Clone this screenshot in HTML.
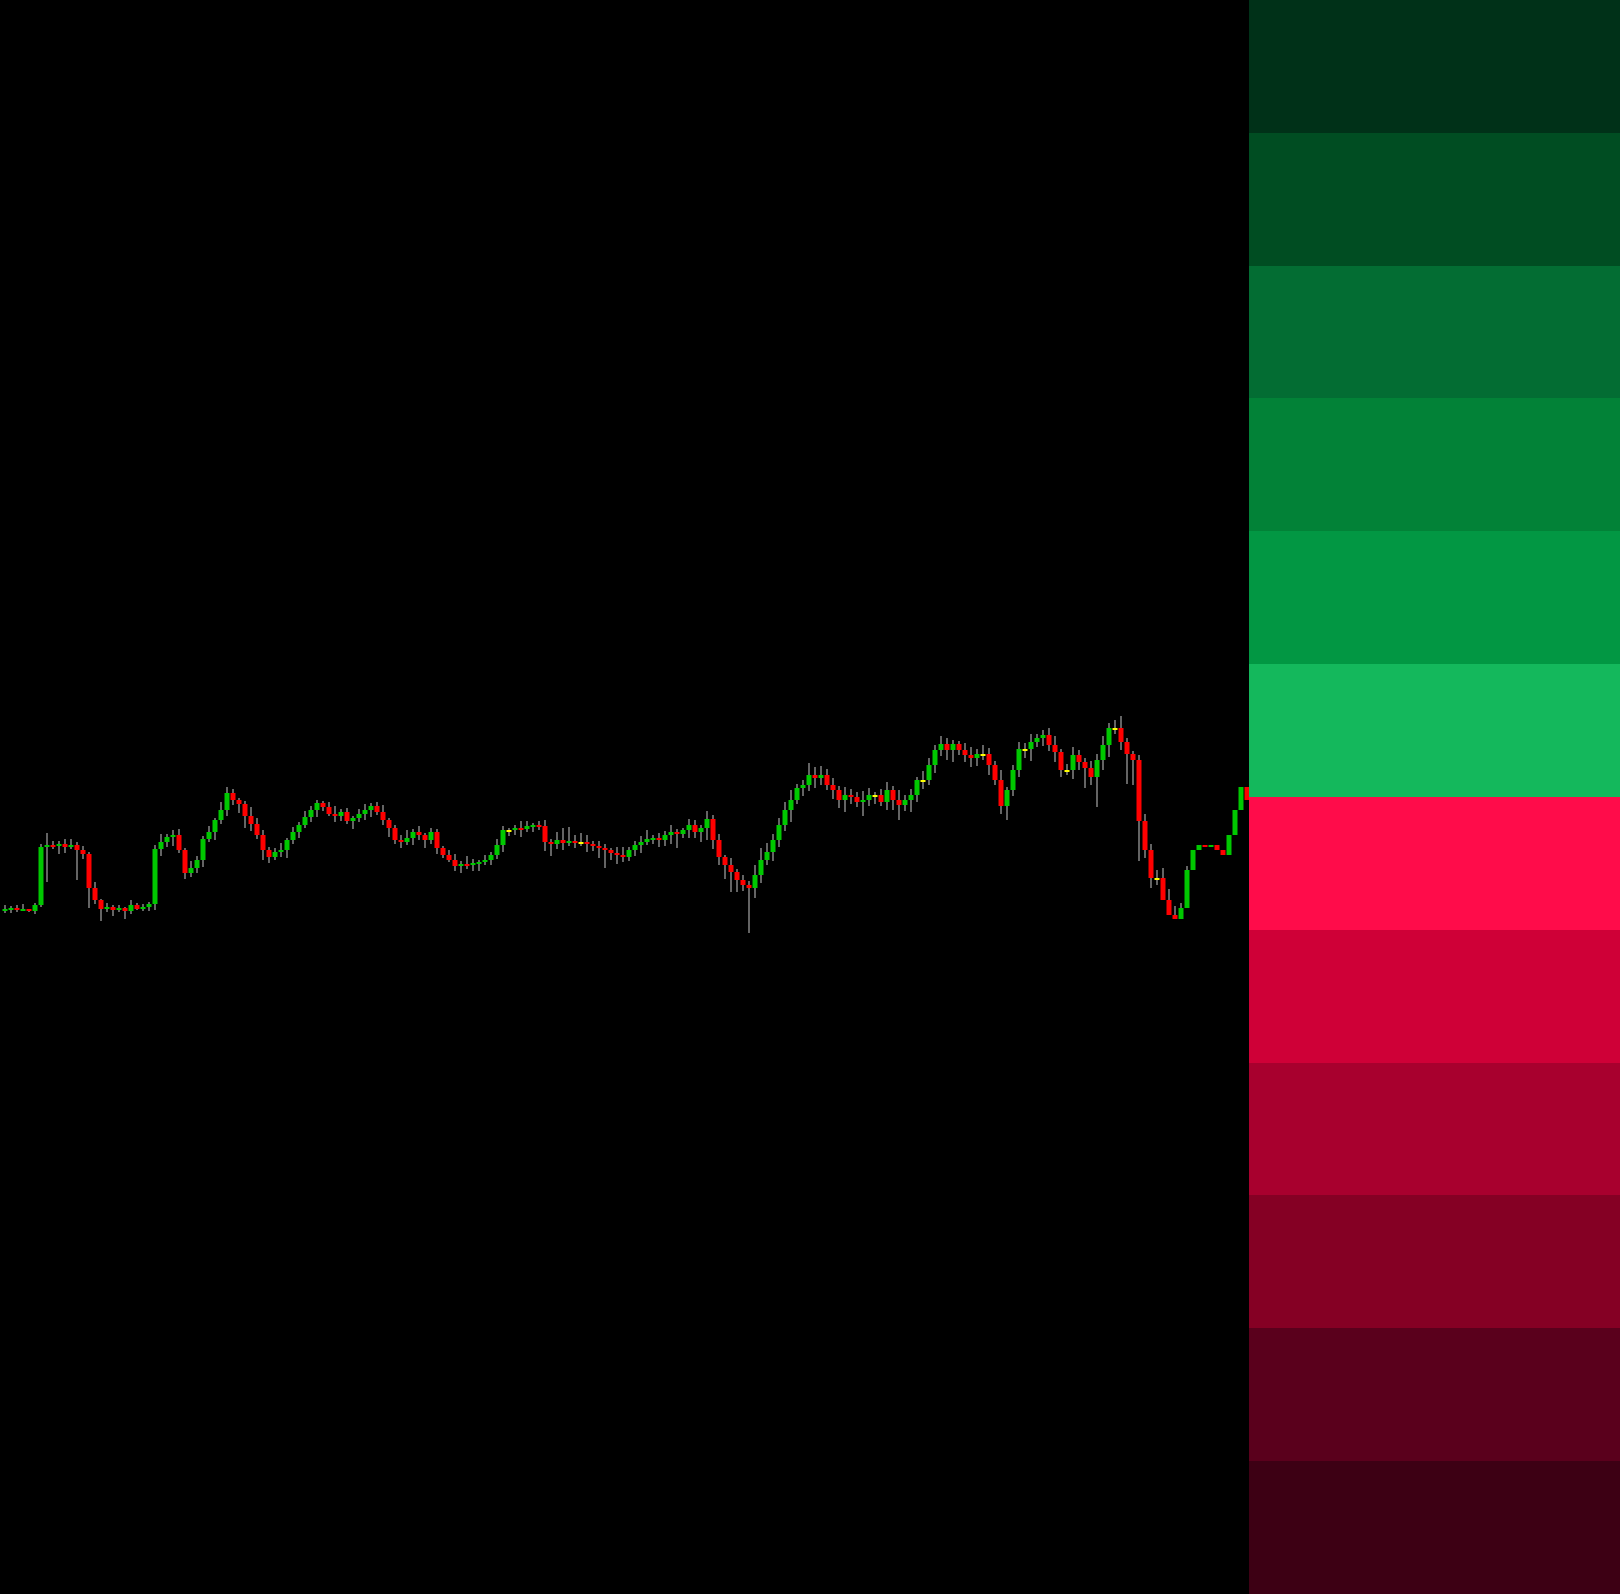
<!DOCTYPE html>
<html><head><meta charset="utf-8"><style>
html,body{margin:0;padding:0;background:#000;width:1620px;height:1594px;overflow:hidden}
#chart{position:absolute;left:0;top:0}
#panel{position:absolute;left:1249px;top:0;width:371px;height:1594px}
.band{width:371px;height:132.84px}
</style></head><body>
<svg id="chart" width="1249" height="1594"></svg>
<div id="panel">
<div class="band" style="background:#003118"></div>
<div class="band" style="background:#004d22"></div>
<div class="band" style="background:#036d33"></div>
<div class="band" style="background:#028237"></div>
<div class="band" style="background:#029743"></div>
<div class="band" style="background:#14b85c"></div>
<div class="band" style="background:#ff0c4a"></div>
<div class="band" style="background:#cf0037"></div>
<div class="band" style="background:#a8002e"></div>
<div class="band" style="background:#850024"></div>
<div class="band" style="background:#5a001c"></div>
<div class="band" style="background:#3d0014"></div>
</div>
<script>
const closes = [91,92,90,91,89,95,
153,155,154,156,153,155,150,146,
112,100,91,93,90,92,89,95,91,93,96,
151,158,163,165,150,127,132,140,
161,168,180,190,207,200,196,
184,176,165,150,143,148,150,160,
168,175,183,190,197,193,186,184,188,
179,182,186,190,194,188,180,172,160,158,
162,168,165,160,168,152,145,140,
134,136,135,137,138,140,145,155,170,
170,172,171,174,175,174,158,156,160,157,159,158,
158,156,154,152,150,147,145,143,150,155,158,
161,162,160,165,168,166,170,175,168,172,181,160,
143,135,128,120,115,112,125,140,
148,160,175,190,200,212,215,225,222,
225,215,210,200,205,203,198,200,205,
205,198,210,200,195,200,205,220,
220,235,250,256,250,256,250,245,242,246,
246,235,220,194,210,230,251,
251,258,262,265,255,248,230,
230,245,238,232,223,240,255,272,
272,258,246,240,179,150,122,
122,100,85,81,92,130,150,155,
153,155,150,145,165,190,213,200];
const wickUp = [4,2,3,5,0,2,3,12,4,3,5,6,3,4,2,6,1,4,2,3,1,5,2,3,2,
4,8,3,5,6,2,7,4,3,6,2,8,6,4,2,3,9,6,5,3,4,7,2,5,3,6,4,3,2,5,8,3,
4,2,5,6,3,4,7,2,3,5,8,3,6,2,4,3,2,5,6,3,8,4,2,5,3,6,4,2,
3,7,5,2,4,6,3,8,12,14,6,9,7,3,5,4,2,6,8,3,4,6,9,3,5,4,7,3,2,6,
5,3,8,4,6,2,7,3,5,4,10,12,9,6,7,8,10,4,5,12,8,9,6,7,4,8,6,
5,9,7,3,6,8,4,10,5,6,3,9,7,5,8,6,4,3,7,8,5,9,6,4,10,3,5,7,
6,8,4,5,7,9,3,6,8,5,4,7,6,9,5,8,12,4,3,5,7,6,8,10,11,9,5,4];
const wickDn = [3,4,2,0,1,3,2,35,3,8,6,2,30,5,20,4,12,3,6,2,8,3,1,2,4,
6,7,5,9,3,6,4,5,7,3,8,4,6,5,9,12,7,4,10,6,3,5,8,4,6,3,5,7,4,2,6,
5,3,8,4,6,7,3,5,9,4,6,3,7,5,8,4,6,3,2,5,7,4,6,8,3,5,4,7,6,
5,8,3,6,4,9,12,5,7,3,6,4,8,5,10,18,7,9,5,4,6,8,3,5,7,6,9,14,4,
8,6,10,12,9,8,14,20,12,6,45,10,8,5,9,7,6,12,4,8,6,10,7,5,9,8,
12,7,5,14,6,9,4,8,10,15,6,12,7,9,5,8,6,10,12,5,7,9,8,6,10,5,
8,14,6,7,9,12,5,8,6,10,7,5,9,8,20,8,30,10,12,6,8,30,25,40,8,10,7];
const X0 = 2.5, STEP = 6.0, BODY = 5;
const xScale = i => X0 + i*STEP;
const yScale = p => 1000 - p;
const svg = document.getElementById('chart');
const NS = 'http://www.w3.org/2000/svg';
for (let i = 0; i < closes.length; i++) {
  const c = closes[i];
  const o = i === 0 ? closes[0] - 1 : closes[i-1];
  const hi = Math.max(o, c) + (wickUp[i] || 0);
  const lo = Math.min(o, c) - (wickDn[i] || 0);
  const x = xScale(i);
  const w = document.createElementNS(NS, 'line');
  w.setAttribute('x1', x + BODY/2); w.setAttribute('x2', x + BODY/2);
  w.setAttribute('y1', yScale(hi)); w.setAttribute('y2', yScale(lo));
  w.setAttribute('stroke', '#c8c8c8'); w.setAttribute('stroke-width', '1');
  
  
  svg.appendChild(w);
  const r = document.createElementNS(NS, 'rect');
  const top = yScale(Math.max(o, c));
  const h = Math.max(2, Math.abs(c - o));
  r.setAttribute('x', x); r.setAttribute('y', top);
  r.setAttribute('width', BODY); r.setAttribute('height', h);
  r.setAttribute('fill', c > o ? '#00c800' : (c < o ? '#ff0000' : '#ffff00'));
  
  
  svg.appendChild(r);
}
</script>
</body></html>
